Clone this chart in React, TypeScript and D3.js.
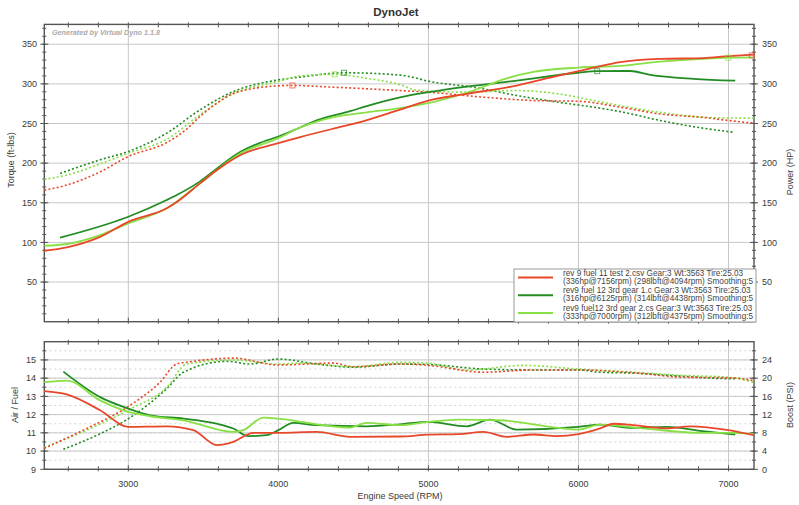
import { useEffect, useRef } from 'react'
import * as d3 from 'd3'

// [rpm, value] pairs
const redHp = [[2440,89.5],[2590,93.8],[2812,107],[3000,126],[3256,143],[3300,148],[3478,174.5],[3589,191],[3745,210],[4000,225.2],[4145,232.8],[4367,243.5],[4545,251.7],[4811,267.5],[5000,279],[5256,287.4],[5589,297.9],[5811,308],[6000,316],[6145,322.5],[6278,327.5],[6545,331.5],[6833,332.5],[7000,335],[7167,337]]
const darkHp = [[2545,106],[3000,132.4],[3256,153.5],[3323,159.8],[3478,177],[3589,193],[3745,214],[3870,225],[4000,233.6],[4145,245],[4256,254],[4478,265.5],[4589,272],[4811,283],[5000,289.5],[5256,296.6],[5589,304.2],[6000,314],[6125,316],[6345,316.2],[6478,311.3],[6767,306.3],[7045,304]]
const lightHp = [[2440,95.8],[2590,98],[2812,109.3],[3000,124],[3256,143],[3478,174.5],[3589,191],[3745,212],[4000,231.5],[4145,245],[4256,252.5],[4367,258],[4589,264],[4811,269.5],[5031,277],[5300,291.6],[5522,307],[5700,315],[6000,320.6],[6278,322.7],[6545,328],[6833,331.7],[7000,333],[7170,333.5]]

const redTq = [[2440,166],[2590,172.4],[2812,189],[3000,208.4],[3256,226],[3389,243],[3478,259],[3600,277],[3700,288],[4000,297.5],[4094,298],[4367,295.8],[4811,291.6],[5000,289.5],[5367,283.2],[5700,279],[6000,278],[6278,270.6],[6545,262],[6833,257.6],[7000,253.8],[7167,250.4]]
const darkTq = [[2545,187],[2812,204.2],[3000,214.7],[3256,237.8],[3478,267.2],[3700,290.3],[4000,305],[4145,308.5],[4438,314],[4811,311],[5036,302],[5300,295.8],[5589,285.3],[5878,276.5],[6100,270.6],[6278,265],[6545,253.8],[6767,246],[7030,239]]
const lightTq = [[2440,179.6],[2590,185],[2812,199],[3000,212.6],[3256,230],[3478,261],[3700,287.4],[4000,303],[4145,310],[4375,312],[4589,307],[4811,299],[4922,292],[5256,289.5],[5589,291.6],[5878,287],[6100,279],[6545,264],[6833,258],[7000,257],[7170,256.7]]

const redAfr = [[2440,13.29],[2590,13.11],[2812,12.24],[3000,11.33],[3256,11.36],[3433,11.15],[3589,10.33],[3700,10.51],[3833,11.0],[4000,11.0],[4256,11.05],[4478,10.78],[4811,10.8],[5000,10.9],[5200,10.93],[5367,11.05],[5522,10.78],[5700,10.91],[5856,10.82],[6000,10.93],[6144,11.24],[6233,11.5],[6367,11.42],[6589,11.24],[6744,11.36],[7000,11.15],[7167,10.87]]
const darkAfr = [[2567,14.36],[2812,12.96],[3000,12.33],[3145,11.96],[3367,11.78],[3589,11.5],[3700,11.24],[3800,10.82],[3922,10.87],[4000,11.15],[4100,11.55],[4256,11.42],[4589,11.36],[4811,11.47],[5000,11.6],[5256,11.36],[5411,11.73],[5589,11.18],[6000,11.33],[6144,11.45],[6367,11.27],[6589,11.33],[6811,11.11],[7045,10.91]]
const lightAfr = [[2440,13.78],[2590,13.87],[2812,12.78],[3000,12.15],[3145,11.91],[3367,11.69],[3700,11.05],[3767,11.15],[3900,11.84],[4000,11.78],[4256,11.47],[4478,11.29],[4589,11.55],[4811,11.42],[5000,11.6],[5200,11.73],[5478,11.69],[5811,11.33],[6000,11.18],[6144,11.45],[6478,11.2],[6811,11.0],[7033,11.0],[7167,10.93]]

const redBoost = [[2440,4.6],[2700,8.6],[3000,13.8],[3211,19.1],[3322,23.1],[3433,23.7],[3700,24.4],[4000,22.9],[4367,23.3],[4500,22.5],[4811,23.1],[5000,22.8],[5367,21.3],[5700,21.8],[6000,21.8],[6367,21.2],[6700,20.2],[7000,20.1],[7167,19.5]]
const darkBoost = [[2567,4.4],[2812,7.8],[3000,11.1],[3256,17.7],[3367,21.3],[3656,23.7],[3811,23.1],[4000,24.2],[4256,23.1],[4500,22.4],[4811,23.1],[5000,23],[5367,22],[5700,21.8],[6000,21.8],[6144,21.3],[6367,21.1],[6700,20.4],[7000,19.9],[7056,19.9]]
const lightBoost = [[2440,4.8],[3000,13],[3256,18],[3389,23.1],[3700,24],[4000,23.1],[4145,23.3],[4500,22.5],[4811,23.5],[5000,23.3],[5256,21.8],[5633,22.8],[6000,22],[6367,21.3],[6700,20.6],[7000,20.2],[7167,19.1]]

// peak markers
const peakMarks = [[4094,298,'red'],[4438,314,'dark'],[4375,312,'light'],[6125,316,'dark'],[7000,333,'light'],[7156,336,'red']]

const rpmTicks = [3000, 4000, 5000, 6000, 7000]
const torqueTicks = [50, 100, 150, 200, 250, 300, 350]
const afrTicks = [9, 10, 11, 12, 13, 14, 15]
const boostTicks = [0, 4, 8, 12, 16, 20, 24]

const legendLines = [
	['rev 9 fuel 11 test 2.csv Gear:3 Wt:3563 Tire:25.03', '(336hp@7156rpm) (298lbft@4094rpm) Smoothing:5'],
	['rev9 fuel 12 3rd gear 1.c Gear:3 Wt:3563 Tire:25.03', '(316hp@6125rpm) (314lbft@4438rpm) Smoothing:5'],
	['rev9 fuel12 3rd gear 2.cs Gear:3 Wt:3563 Tire:25.03', '(333hp@7000rpm) (312lbft@4375rpm) Smoothing:5'],
]

const colors = { red: '#e8472a', dark: '#228c22', light: '#88e045' }

const App = () => {
	const svgRef = useRef(null)

	useEffect(() => {
		const svg = d3.select(svgRef.current)
		svg.selectAll('*').remove()

		const left = 44.3, right = 754
		const x = d3.scaleLinear().domain([2440, 7170]).range([left, right])
		const yTop = d3.scaleLinear().domain([0, 375]).range([321.7, 24.4])
		const yAfr = d3.scaleLinear().domain([9, 16]).range([469.3, 341.7])
		const yBoost = d3.scaleLinear().domain([0, 28]).range([469.3, 341.7])
		const font = 'Liberation Sans, Arial, sans-serif'
		const txt = '#3a3a3a'

		const drawPanel = (y, major, minor, dottedMinor) => {
			const [y0, y1] = y.range()
			const g = svg.append('g')
			if (dottedMinor) {
				minor.forEach((v) => {
					g.append('line').attr('x1', left).attr('x2', right).attr('y1', y(v)).attr('y2', y(v))
						.attr('stroke', '#d4d4d4').attr('stroke-dasharray', '2,3')
				})
			}
			major.forEach((v) => {
				g.append('line').attr('x1', left).attr('x2', right).attr('y1', y(v)).attr('y2', y(v))
					.attr('stroke', '#c8c8c8')
			})
			rpmTicks.forEach((r) => {
				g.append('line').attr('x1', x(r)).attr('x2', x(r)).attr('y1', y0).attr('y2', y1)
					.attr('stroke', '#c8c8c8')
			})
			// ticks on all four sides
			d3.range(2600, 7170, 200).forEach((r) => {
				const len = r % 1000 === 0 ? 4 : 3
				g.append('line').attr('x1', x(r)).attr('x2', x(r)).attr('y1', y0 + 2).attr('y2', y0 - len).attr('stroke', '#555')
				g.append('line').attr('x1', x(r)).attr('x2', x(r)).attr('y1', y1 - 2).attr('y2', y1 + len).attr('stroke', '#555')
			})
			minor.forEach((v) => {
				g.append('line').attr('x1', left - 2).attr('x2', left + 2).attr('y1', y(v)).attr('y2', y(v)).attr('stroke', '#555')
				g.append('line').attr('x1', right - 2).attr('x2', right + 2).attr('y1', y(v)).attr('y2', y(v)).attr('stroke', '#555')
			})
			major.forEach((v) => {
				g.append('line').attr('x1', left - 4).attr('x2', left + 4).attr('y1', y(v)).attr('y2', y(v)).attr('stroke', '#555')
				g.append('line').attr('x1', right - 4).attr('x2', right + 4).attr('y1', y(v)).attr('y2', y(v)).attr('stroke', '#555')
			})
			g.append('rect').attr('x', left).attr('y', y1).attr('width', right - left).attr('height', y0 - y1)
				.attr('fill', 'none').attr('stroke', '#555').attr('stroke-width', 1.4)
		}

		drawPanel(yTop, torqueTicks, d3.range(10, 375, 10), false)
		drawPanel(yAfr, afrTicks, d3.range(9.5, 16, 0.5), true)

		const curve = (data, y, color, dotted) => {
			const line = d3.line().x((d) => x(d[0])).y((d) => y(d[1])).curve(d3.curveMonotoneX)
			svg.append('path').attr('d', line(data)).attr('fill', 'none').attr('stroke', color)
				.attr('stroke-width', dotted ? 1.6 : 1.8)
				.attr('stroke-dasharray', dotted ? '2,2.2' : null)
		}

		curve(darkTq, yTop, colors.dark, true)
		curve(lightTq, yTop, colors.light, true)
		curve(redTq, yTop, colors.red, true)
		curve(darkHp, yTop, colors.dark, false)
		curve(lightHp, yTop, colors.light, false)
		curve(redHp, yTop, colors.red, false)

		curve(darkBoost, yBoost, colors.dark, true)
		curve(lightBoost, yBoost, colors.light, true)
		curve(redBoost, yBoost, colors.red, true)
		curve(darkAfr, yAfr, colors.dark, false)
		curve(lightAfr, yAfr, colors.light, false)
		curve(redAfr, yAfr, colors.red, false)

		peakMarks.forEach(([r, v, c]) => {
			svg.append('rect').attr('x', x(r) - 2.5).attr('y', yTop(v) - 2.5).attr('width', 5).attr('height', 5)
				.attr('fill', 'none').attr('stroke', colors[c]).attr('stroke-opacity', 0.7)
		})

		// tick labels
		const label = (t, px, py, anchor) =>
			svg.append('text').attr('x', px).attr('y', py).attr('text-anchor', anchor)
				.attr('font-family', font).attr('font-size', 9).attr('fill', txt).text(t)
		torqueTicks.forEach((v) => {
			label(v, 37, yTop(v) + 3.2, 'end')
			label(v, 762, yTop(v) + 3.2, 'start')
		})
		afrTicks.forEach((v) => label(v, 36, yAfr(v) + 3.2, 'end'))
		boostTicks.forEach((v) => label(v, 762, yBoost(v) + 3.2, 'start'))
		rpmTicks.forEach((r) => label(r, x(r), 487, 'middle'))

		// titles
		svg.append('text').attr('x', 396).attr('y', 16).attr('text-anchor', 'middle')
			.attr('font-family', font).attr('font-size', 11.5).attr('font-weight', 'bold').attr('fill', '#333').text('DynoJet')
		svg.append('text').attr('x', 52).attr('y', 35).attr('font-family', font).attr('font-size', 7.2)
			.attr('font-style', 'italic').attr('font-weight', 'bold').attr('fill', '#aaa').text('Generated by Virtual Dyno 1.1.8')
		svg.append('text').attr('x', 400).attr('y', 499).attr('text-anchor', 'middle')
			.attr('font-family', font).attr('font-size', 9).attr('fill', txt).text('Engine Speed (RPM)')
		const vlabel = (t, px, py) =>
			svg.append('text').attr('transform', `translate(${px},${py}) rotate(-90)`).attr('text-anchor', 'middle')
				.attr('font-family', font).attr('font-size', 9).attr('fill', txt).text(t)
		vlabel('Torque (ft-lbs)', 14, 160)
		vlabel('Power (HP)', 793, 172)
		vlabel('Air / Fuel', 18, 405)
		vlabel('Boost (PSI)', 793, 405)

		// legend
		const lg = svg.append('g')
		lg.append('rect').attr('x', 514).attr('y', 269).attr('width', 242).attr('height', 53)
			.attr('fill', '#fff').attr('stroke', '#999')
		const keys = ['red', 'dark', 'light']
		legendLines.forEach(([a, b], i) => {
			const cy = 277.5 + i * 17.8
			lg.append('line').attr('x1', 518).attr('x2', 553).attr('y1', cy).attr('y2', cy)
				.attr('stroke', colors[keys[i]]).attr('stroke-width', 2)
			lg.append('text').attr('x', 563).attr('y', cy - 2).attr('font-family', font).attr('font-size', 8.2)
				.attr('fill', '#444').text(a)
			lg.append('text').attr('x', 563).attr('y', cy + 6).attr('font-family', font).attr('font-size', 8.2)
				.attr('fill', '#444').text(b)
		})
	}, [])

	return (
		<svg ref={svgRef} width={799} height={505}
			style={{ position: 'absolute', left: 0, top: 0, background: '#fff' }} />
	)
}

export default App
